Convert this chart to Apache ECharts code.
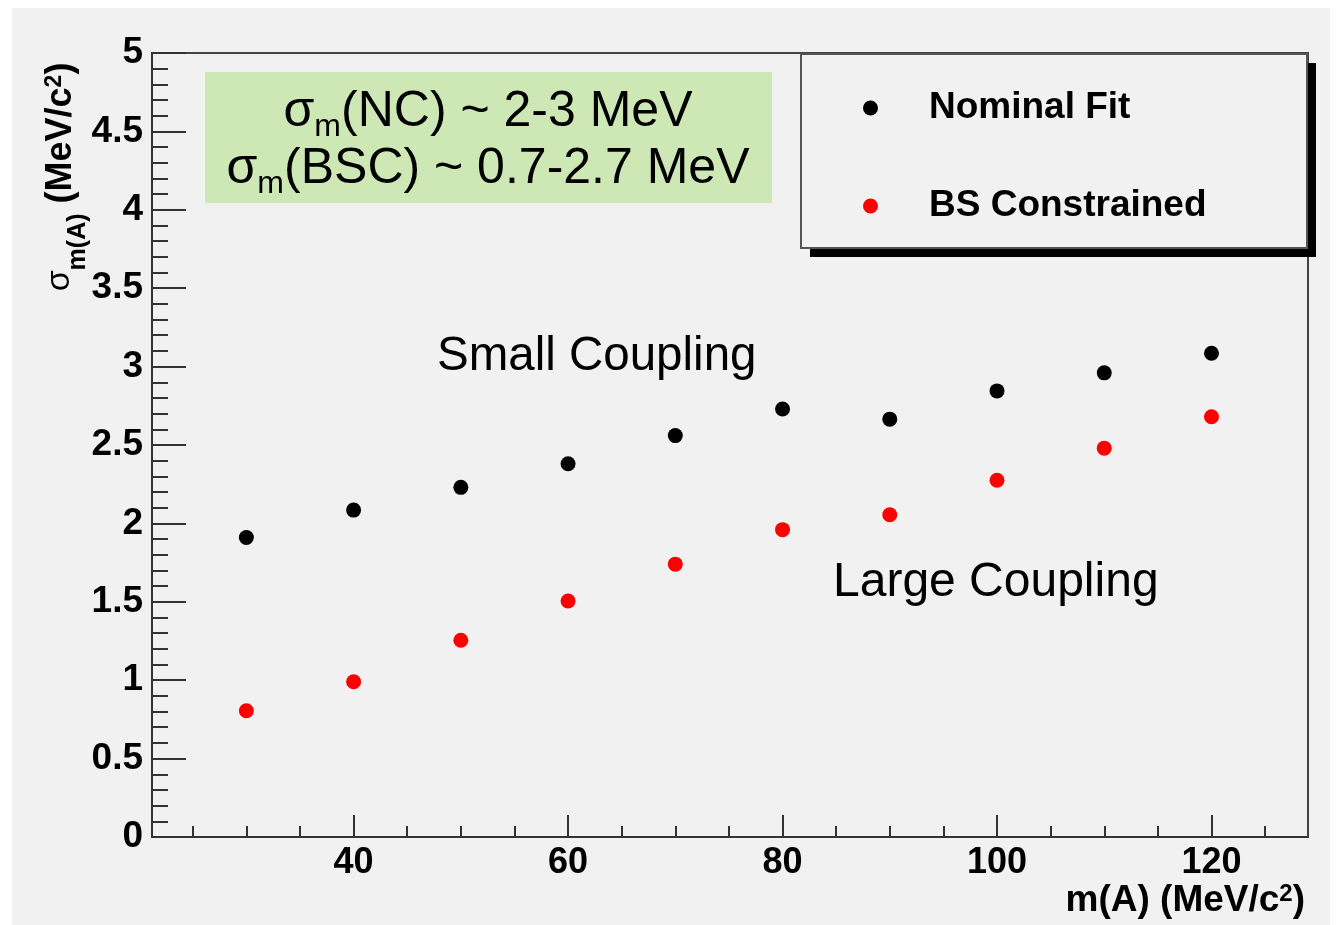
<!DOCTYPE html>
<html>
<head>
<meta charset="utf-8">
<script src="https://cdn.jsdelivr.net/npm/echarts@6/dist/echarts.min.js"></script>
<style>
  html, body { margin: 0; padding: 0; background: #ffffff; }
  #paper { position: absolute; left: 12px; top: 8px; width: 1318px; height: 917px; background: #f1f1f1; }
  #chart { position: absolute; left: 0; top: 0; width: 1342px; height: 925px; }
</style>
</head>
<body>
<div id="paper"></div>
<div id="chart"></div>
<script>
// m(A) values
const masses = [30, 40, 50, 60, 70, 80, 90, 100, 110, 120];
// sigma_m, nominal fit
const nominalFit = [1.91, 2.085, 2.23, 2.38, 2.56, 2.73, 2.665, 2.845, 2.96, 3.085];
// sigma_m, beam-spot constrained
const bsConstrained = [0.805, 0.99, 1.255, 1.505, 1.74, 1.96, 2.055, 2.275, 2.48, 2.68];
const xMajorTicks = [40, 60, 80, 100, 120];
const xMinorTicks = [25, 30, 35, 45, 50, 55, 65, 70, 75, 85, 90, 95, 105, 110, 115, 125];

const font = "'Liberation Sans', Arial, Helvetica, sans-serif";

function pairs(ys) {
  return masses.map((m, i) => [m, ys[i]]);
}

let chart = echarts.init(document.getElementById("chart"));
chart.setOption({
  backgroundColor: "transparent",
  animation: false,
  textStyle: { fontFamily: font },
  grid: {
    left: 152,
    top: 53,
    right: 34,
    bottom: 88,
    show: true,
    borderColor: "#444",
    borderWidth: 2,
    backgroundColor: "transparent",
  },
  xAxis: [
    {
      type: "value",
      min: 21.2,
      max: 129,
      axisLine: { show: true, onZero: false, lineStyle: { color: "#333", width: 2 } },
      axisTick: { show: true, inside: true, length: 22, customValues: xMajorTicks, lineStyle: { color: "#333", width: 2 } },
      axisLabel: { customValues: xMajorTicks, color: "#000", fontWeight: "bold", fontSize: 36, margin: 8, fontFamily: font },
      splitLine: { show: false },
    },
    {
      type: "value",
      min: 21.2,
      max: 129,
      position: "bottom",
      axisLine: { show: false },
      axisTick: { show: true, inside: true, length: 11, customValues: xMinorTicks, lineStyle: { color: "#333", width: 2 } },
      axisLabel: { show: false },
      splitLine: { show: false },
    },
  ],
  yAxis: {
    type: "value",
    min: 0,
    max: 5,
    interval: 0.5,
    axisLine: { show: true, lineStyle: { color: "#333", width: 2 } },
    axisTick: { show: true, inside: true, length: 34, lineStyle: { color: "#333", width: 2 } },
    minorTick: { show: true, splitNumber: 5, length: 16, lineStyle: { color: "#333", width: 2 } },
    axisLabel: {
      color: "#000",
      fontWeight: "bold",
      fontSize: 37,
      margin: 9,
      fontFamily: font,
      formatter: (v) => String(v),
    },
    splitLine: { show: false },
  },
  legend: {
    data: ["Nominal Fit", "BS Constrained"],
    orient: "vertical",
    left: 858,
    top: 83,
    z: 10,
    icon: "circle",
    itemWidth: 15,
    itemHeight: 15,
    itemGap: 58,
    itemStyle: { opacity: 1 },
    textStyle: {
      fontFamily: font,
      fontWeight: "bold",
      fontSize: 37,
      lineHeight: 40,
      color: "#000",
      padding: [0, 0, 0, 46],
    },
  },
  graphic: [
    // legend box with hard shadow
    { type: "rect", z: 5, shape: { x: 810, y: 63, width: 506, height: 194 }, style: { fill: "#000" } },
    { type: "rect", z: 6, shape: { x: 801, y: 54, width: 506, height: 194 }, style: { fill: "#f1f1f1", stroke: "#555", lineWidth: 2 } },
    // green note box
    { type: "rect", z: 5, shape: { x: 205, y: 72, width: 567, height: 131 }, style: { fill: "#cde8b5" } },
    {
      type: "text",
      z: 6,
      x: 488,
      y: 110,
      style: {
        text: "{t|σ}{s|m}{t|(NC) ~ 2-3 MeV}",
        align: "center",
        verticalAlign: "middle",
        fill: "#000",
        rich: {
          t: { fontFamily: font, fontSize: 50, lineHeight: 54, verticalAlign: "bottom" },
          s: { fontFamily: font, fontSize: 32, lineHeight: 32, verticalAlign: "bottom", padding: [0, 0, -6, 0] },
        },
      },
    },
    {
      type: "text",
      z: 6,
      x: 488,
      y: 167,
      style: {
        text: "{t|σ}{s|m}{t|(BSC) ~ 0.7-2.7 MeV}",
        align: "center",
        verticalAlign: "middle",
        fill: "#000",
        rich: {
          t: { fontFamily: font, fontSize: 50, lineHeight: 54, verticalAlign: "bottom" },
          s: { fontFamily: font, fontSize: 32, lineHeight: 32, verticalAlign: "bottom", padding: [0, 0, -6, 0] },
        },
      },
    },
    // annotations
    {
      type: "text", z: 6, x: 437, y: 357,
      style: { text: "Small Coupling", fontFamily: font, fontSize: 47.5, fill: "#000", align: "left", verticalAlign: "middle" },
    },
    {
      type: "text", z: 6, x: 833, y: 583,
      style: { text: "Large Coupling", fontFamily: font, fontSize: 48, fill: "#000", align: "left", verticalAlign: "middle" },
    },
    // axis titles
    {
      type: "text",
      z: 6,
      x: 1305,
      y: 902,
      style: {
        text: "{t|m(A) (MeV/c}{p|2}{t|)}",
        align: "right",
        verticalAlign: "middle",
        fill: "#000",
        rich: {
          t: { fontFamily: font, fontWeight: "bold", fontSize: 37, lineHeight: 40, verticalAlign: "top" },
          p: { fontFamily: font, fontWeight: "bold", fontSize: 24, lineHeight: 40, verticalAlign: "top" },
        },
      },
    },
    {
      type: "text",
      z: 6,
      x: 63,
      y: 177,
      rotation: Math.PI / 2,
      style: {
        text: "{g|σ}{s|m(A)}{t| (MeV/c}{p|2}{t|)}",
        align: "center",
        verticalAlign: "middle",
        fill: "#000",
        rich: {
          g: { fontFamily: font, fontSize: 34, lineHeight: 40, verticalAlign: "top" },
          t: { fontFamily: font, fontWeight: "bold", fontSize: 36, lineHeight: 40, verticalAlign: "top" },
          s: { fontFamily: font, fontWeight: "bold", fontSize: 25, lineHeight: 40, verticalAlign: "bottom", padding: [0, 0, -8, 0] },
          p: { fontFamily: font, fontWeight: "bold", fontSize: 23, lineHeight: 40, verticalAlign: "top" },
        },
      },
    },
  ],
  series: [
    {
      name: "Nominal Fit",
      type: "scatter",
      symbol: "circle",
      symbolSize: 15,
      itemStyle: { color: "#000", opacity: 1 },
      data: pairs(nominalFit),
    },
    {
      name: "BS Constrained",
      type: "scatter",
      symbol: "circle",
      symbolSize: 15,
      itemStyle: { color: "#ff0000", opacity: 1 },
      data: pairs(bsConstrained),
    },
  ],
});
window.addEventListener("resize", () => {
  chart.resize();
});
</script>
</body>
</html>
